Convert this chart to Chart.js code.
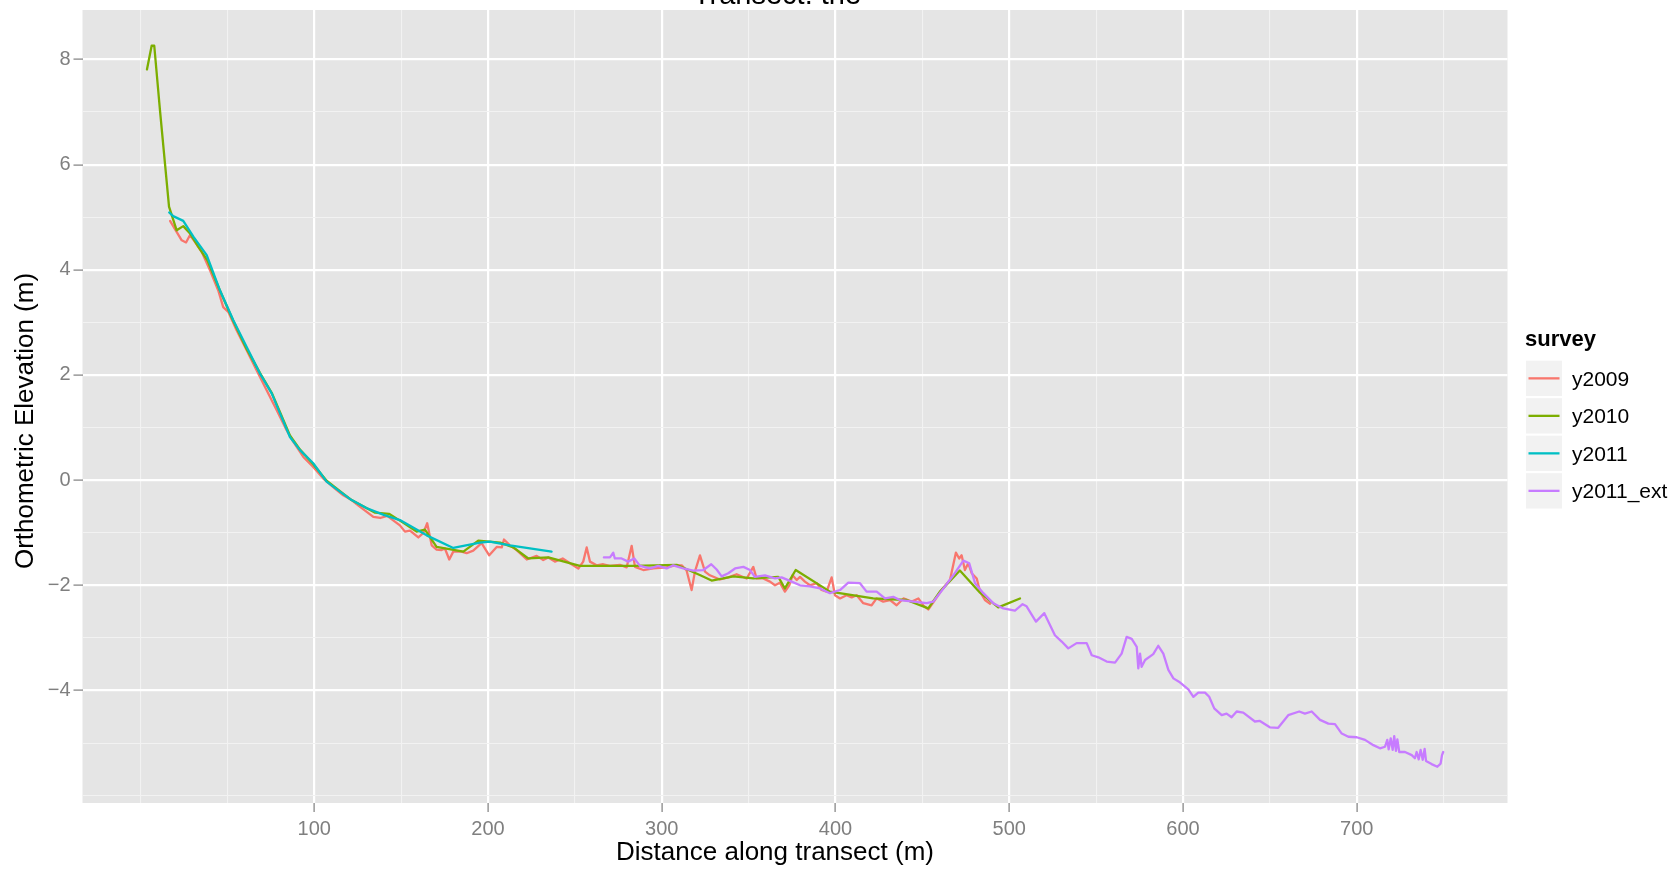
<!DOCTYPE html>
<html>
<head>
<meta charset="utf-8">
<script src="https://cdn.jsdelivr.net/npm/chart.js@4.4.1/dist/chart.umd.min.js"></script>
<style>
html,body{margin:0;padding:0;background:#ffffff;}
#wrap{width:1680px;height:870px;position:relative;}
</style>
</head>
<body>
<div id="wrap"><canvas id="c" width="1680" height="870"></canvas></div>
<script>
// ---------------- DATA ----------------
const seriesNames = ['y2009', 'y2010', 'y2011', 'y2011_ext'];
const seriesColors = ['#F8766D', '#7CAE00', '#00BFC4', '#C77CFF'];

// [distance (m), elevation (m)]
const y2009 = [
  [17.0,4.93],[23.7,4.56],[26.2,4.52],[28.5,4.66],[31.3,4.53],[35.2,4.34],[40.0,3.99],[44.7,3.61],
  [47.6,3.29],[50.5,3.20],[55.3,2.85],[61.1,2.47],[66.8,2.09],[72.6,1.71],[78.4,1.33],[84.1,0.95],
  [87.9,0.73],[93.7,0.44],[99.4,0.25],[105.2,0.03],[111.9,-0.16],[116.7,-0.29],[121.5,-0.38],
  [126,-0.50],[130,-0.60],[134,-0.70],[138,-0.72],[142,-0.68],[146,-0.78],[149.3,-0.86],[152.2,-0.98],
  [155.1,-0.96],[159.9,-1.09],[162.7,-1.01],[165.0,-0.82],[167.6,-1.24],[170.4,-1.32],[173.3,-1.33],
  [175.2,-1.30],[177.7,-1.51],[180.0,-1.36],[184.8,-1.36],[187.7,-1.39],[191.5,-1.34],[196.3,-1.20],
  [200.7,-1.43],[205.0,-1.27],[207.9,-1.28],[209.2,-1.13],[212.6,-1.24],[216.5,-1.33],[222.3,-1.51],
  [228.0,-1.44],[231.8,-1.52],[234.7,-1.47],[238.5,-1.55],[243.0,-1.49],[247.2,-1.58],[252.0,-1.68],
  [254.8,-1.55],[256.8,-1.28],[258.7,-1.55],[262.5,-1.62],[266.3,-1.60],[270.2,-1.63],[275.9,-1.61],
  [279.8,-1.66],[282.7,-1.25],[284.6,-1.65],[289.4,-1.71],[295.1,-1.68],[302.8,-1.66],[307.6,-1.62],
  [311.5,-1.62],[314.3,-1.72],[317.2,-2.09],[319.1,-1.74],[322.0,-1.43],[324.9,-1.74],[327.7,-1.81],
  [333.5,-1.89],[338.3,-1.85],[343.1,-1.79],[348.9,-1.87],[352.7,-1.65],[354.6,-1.87],[358.4,-1.87],
  [362.3,-1.93],[365.2,-2.00],[368.0,-1.95],[370.9,-2.12],[373.4,-2.00],[375.3,-1.81],[377.7,-1.90],
  [379.6,-1.84],[382.4,-1.93],[385.3,-2.00],[389.2,-1.96],[392.0,-2.09],[394.9,-2.12],[397.8,-1.85],
  [399.7,-2.19],[402.6,-2.25],[406.4,-2.19],[409.3,-2.23],[412.2,-2.19],[416.0,-2.34],[420.8,-2.38],
  [423.7,-2.25],[427.5,-2.31],[431.4,-2.28],[435.2,-2.38],[439.1,-2.25],[443.9,-2.31],[447.7,-2.25],
  [450.5,-2.38],[453.4,-2.46],[457.2,-2.28],[461.1,-2.09],[465.9,-1.90],[469.3,-1.38],[471.2,-1.49],
  [472.6,-1.43],[474.5,-1.71],[476.4,-1.58],[478.4,-1.77],[481.3,-1.87],[483.2,-2.12],[486.0,-2.28],
  [489.0,-2.35]
];

const y2010 = [
  [3.7,7.81],[6.4,8.26],[7.9,8.26],[11.2,7.03],[16.4,5.20],[20.8,4.75],[24.6,4.83],[28.5,4.69],
  [33.2,4.44],[38.5,4.18],[45.5,3.62],[53.2,3.04],[61.0,2.50],[68.7,2.04],[75.5,1.66],[80.3,1.29],
  [86.0,0.85],[91.8,0.58],[99.4,0.30],[107.1,-0.01],[114.8,-0.21],[121.5,-0.38],[135.0,-0.62],
  [143.0,-0.64],[149.3,-0.77],[158.9,-0.98],[163.7,-0.94],[170.4,-1.27],[185.8,-1.36],[194.4,-1.15],
  [207.0,-1.19],[214.6,-1.28],[223.2,-1.49],[234.7,-1.47],[252.9,-1.63],[283.6,-1.63],[308.6,-1.61],
  [322.2,-1.81],[328.7,-1.91],[341.2,-1.83],[352.7,-1.87],[367.1,-1.84],[370.9,-2.06],[377.1,-1.71],
  [396.8,-2.12],[421.7,-2.25],[440.9,-2.28],[453.4,-2.44],[460.1,-2.12],[471.6,-1.72],[483.2,-2.14],
  [493.7,-2.42],[506.2,-2.25]
];

const y2011 = [
  [16.5,5.09],[18.8,5.02],[24.6,4.93],[30.4,4.63],[38.1,4.28],[45.7,3.61],[53.4,3.04],[61.1,2.53],
  [68.7,2.03],[75.5,1.65],[80.3,1.27],[86.0,0.82],[91.8,0.57],[99.4,0.32],[107.1,-0.03],[114.8,-0.22],
  [121.5,-0.38],[130.0,-0.53],[140.0,-0.66],[149.3,-0.76],[164.7,-1.05],[180.0,-1.29],[195.4,-1.19],
  [201.1,-1.17],[212.6,-1.24],[236.6,-1.36]
];

const y2011_ext = [
  [266.7,-1.47],[270.2,-1.47],[272.1,-1.38],[273.0,-1.49],[276.9,-1.49],[280.7,-1.55],[284.2,-1.49],
  [287.5,-1.63],[293.2,-1.68],[298.0,-1.63],[302.8,-1.68],[306.6,-1.62],[312.4,-1.68],[318.1,-1.72],
  [323.9,-1.71],[328.5,-1.60],[331.6,-1.70],[334.5,-1.83],[338.3,-1.77],[342.2,-1.68],[347.0,-1.65],
  [350.8,-1.71],[353.6,-1.84],[359.4,-1.81],[365.2,-1.87],[369.0,-1.85],[374.8,-1.93],[379.6,-2.00],
  [385.3,-2.02],[391.1,-2.06],[396.8,-2.15],[402.6,-2.09],[407.4,-1.95],[414.1,-1.96],[417.9,-2.12],
  [423.7,-2.12],[428.5,-2.25],[433.3,-2.22],[437.1,-2.28],[444.8,-2.31],[452.5,-2.34],[456.3,-2.31],
  [462.1,-2.06],[467.8,-1.81],[473.6,-1.53],[477.0,-1.58],[480.3,-1.96],[485.1,-2.15],[490.8,-2.34],
  [496.6,-2.44],[503.3,-2.48],[507.7,-2.36],[510.0,-2.40],[515.4,-2.69],[520.2,-2.53],[526.3,-2.95],
  [530.2,-3.07],[534.0,-3.20],[538.8,-3.10],[544.6,-3.10],[547.5,-3.33],[551.3,-3.37],[556.1,-3.45],
  [560.9,-3.47],[564.7,-3.30],[567.6,-2.98],[570.5,-3.02],[573.4,-3.17],[574.3,-3.58],[575.3,-3.30],
  [576.2,-3.55],[578.2,-3.42],[582.9,-3.31],[585.8,-3.15],[588.7,-3.30],[591.6,-3.61],[594.5,-3.77],
  [598.4,-3.85],[603.1,-3.98],[606.0,-4.12],[608.8,-4.04],[612.7,-4.04],[615.1,-4.12],[618.0,-4.34],
  [622.3,-4.47],[625.1,-4.44],[628.0,-4.51],[630.9,-4.40],[634.7,-4.42],[641.4,-4.59],[644.3,-4.58],
  [650.0,-4.70],[654.8,-4.71],[660.6,-4.47],[666.9,-4.40],[670.2,-4.44],[674.1,-4.40],[678.9,-4.56],
  [683.7,-4.63],[687.5,-4.64],[691.4,-4.82],[695.2,-4.88],[700.0,-4.89],[704.8,-4.94],[709.6,-5.04],
  [713.4,-5.10],[716.3,-5.07],[717.6,-4.94],[718.4,-5.12],[719.6,-4.91],[720.7,-5.13],[721.6,-4.87],
  [722.6,-5.15],[723.4,-4.93],[724.5,-5.17],[727.8,-5.17],[731.7,-5.23],[733.5,-5.29],[734.5,-5.17],
  [735.7,-5.31],[736.8,-5.13],[738.0,-5.32],[739.1,-5.11],[739.9,-5.34],[743.1,-5.40],[746.4,-5.45],
  [748.3,-5.39],[749.1,-5.23],[749.8,-5.17]
];

const xTickValues = [100, 200, 300, 400, 500, 600, 700];
const xTickLabels = ['100', '200', '300', '400', '500', '600', '700'];
const xMinorValues = [0, 50, 150, 250, 350, 450, 550, 650, 750];
const yTickValues = [-4, -2, 0, 2, 4, 6, 8];
const yTickLabels = ['\u22124', '\u22122', '0', '2', '4', '6', '8'];
const yMinorValues = [-6, -5, -3, -1, 1, 3, 5, 7];

const titleText = 'Transect: the';
const xTitleText = 'Distance along transect (m)';
const yTitleText = 'Orthometric Elevation (m)';
const legendTitleText = 'survey';

// ---------------- CHART ----------------
const FONT = '"Liberation Sans", Arial, Helvetica, sans-serif';
const seriesData = [y2009, y2010, y2011, y2011_ext];

const datasets = seriesNames.map((name, i) => ({
  label: name,
  data: seriesData[i].map(p => ({ x: p[0], y: p[1] })),
  borderColor: seriesColors[i],
  backgroundColor: seriesColors[i],
  borderWidth: 2.3,
  pointRadius: 0,
  pointHoverRadius: 0,
  tension: 0,
  fill: false,
  showLine: true,
  borderJoinStyle: 'round',
  borderCapStyle: 'round',
  order: seriesNames.length - 1 - i
}));

function isMajor(list, v) { return list.indexOf(v) >= 0; }

const ggDecor = {
  id: 'ggDecor',
  beforeDraw(chart) {
    const { ctx, chartArea: a } = chart;
    ctx.save();
    ctx.fillStyle = '#E5E5E5';
    ctx.fillRect(a.left, a.top, a.right - a.left, a.bottom - a.top);
    ctx.restore();
  },
  afterDraw(chart) {
    const ctx = chart.ctx;
    ctx.save();
    ctx.fillStyle = '#000000';
    // main title (clipped at top, as in reference)
    ctx.font = '29px ' + FONT;
    ctx.textAlign = 'center';
    ctx.textBaseline = 'alphabetic';
    ctx.fillText(titleText, 777, 4);
    // x axis title
    ctx.font = '26px ' + FONT;
    ctx.fillText(xTitleText, 775, 860);
    // y axis title
    ctx.save();
    ctx.translate(33, 421);
    ctx.rotate(-Math.PI / 2);
    ctx.fillText(yTitleText, 0, 0);
    ctx.restore();
    // legend
    ctx.textAlign = 'left';
    ctx.font = 'bold 22px ' + FONT;
    ctx.fillText(legendTitleText, 1525, 346);
    const kx = 1526, ky = 360.7, pitch = 37.5, kw = 36, kh = 35.3;
    chart.data.datasets.forEach((ds, i) => {
      const top = ky + i * pitch;
      ctx.fillStyle = '#F2F2F2';
      ctx.fillRect(kx, top, kw, kh);
      const cy = top + kh / 2;
      ctx.strokeStyle = ds.borderColor;
      ctx.lineWidth = 2.3;
      ctx.beginPath();
      ctx.moveTo(kx + 2.5, cy);
      ctx.lineTo(kx + kw - 2.5, cy);
      ctx.stroke();
      ctx.fillStyle = '#000000';
      ctx.font = '21px ' + FONT;
      ctx.fillText(ds.label, 1572, cy + 7.5);
    });
    ctx.restore();
  }
};

new Chart(document.getElementById('c'), {
  type: 'scatter',
  data: { datasets },
  plugins: [ggDecor],
  options: {
    responsive: false,
    animation: false,
    events: [],
    layout: { padding: { top: 10, right: 172.5, bottom: 0, left: 0 } },
    plugins: {
      legend: { display: false },
      title: { display: false },
      tooltip: { enabled: false }
    },
    scales: {
      x: {
        type: 'linear',
        min: -33.4,
        max: 786.8,
        afterBuildTicks(s) {
          s.ticks = xMinorValues.concat(xTickValues).sort((a, b) => a - b).map(v => ({ value: v }));
        },
        afterFit(s) {
          s.height = 67;
          s.paddingLeft = 0; s.paddingRight = 0; s.paddingTop = 0; s.paddingBottom = 0;
        },
        border: { display: false },
        grid: {
          color: c => isMajor(xTickValues, c.tick.value) ? '#FFFFFF' : '#F2F2F2',
          lineWidth: c => isMajor(xTickValues, c.tick.value) ? 2.2 : 1.1,
          tickColor: c => isMajor(xTickValues, c.tick.value) ? '#7F7F7F' : 'rgba(0,0,0,0)',
          tickLength: 9,
          tickWidth: 1.2,
          drawTicks: true
        },
        ticks: {
          autoSkip: false,
          maxRotation: 0,
          minRotation: 0,
          padding: 5,
          color: '#7F7F7F',
          font: { family: FONT, size: 20 },
          callback: v => { const i = xTickValues.indexOf(v); return i >= 0 ? xTickLabels[i] : ''; }
        }
      },
      y: {
        type: 'linear',
        min: -6.14,
        max: 8.94,
        afterBuildTicks(s) {
          s.ticks = yMinorValues.concat(yTickValues).sort((a, b) => a - b).map(v => ({ value: v }));
        },
        afterFit(s) {
          s.width = 82.5;
          s.paddingLeft = 0; s.paddingRight = 0; s.paddingTop = 0; s.paddingBottom = 0;
        },
        border: { display: false },
        grid: {
          color: c => isMajor(yTickValues, c.tick.value) ? '#FFFFFF' : '#F2F2F2',
          lineWidth: c => isMajor(yTickValues, c.tick.value) ? 2.2 : 1.1,
          tickColor: c => isMajor(yTickValues, c.tick.value) ? '#7F7F7F' : 'rgba(0,0,0,0)',
          tickLength: 9,
          tickWidth: 1.2,
          drawTicks: true
        },
        ticks: {
          autoSkip: false,
          padding: 3,
          color: '#7F7F7F',
          font: { family: FONT, size: 20 },
          callback: v => { const i = yTickValues.indexOf(v); return i >= 0 ? yTickLabels[i] : ''; }
        }
      }
    }
  }
});
</script>
</body>
</html>
